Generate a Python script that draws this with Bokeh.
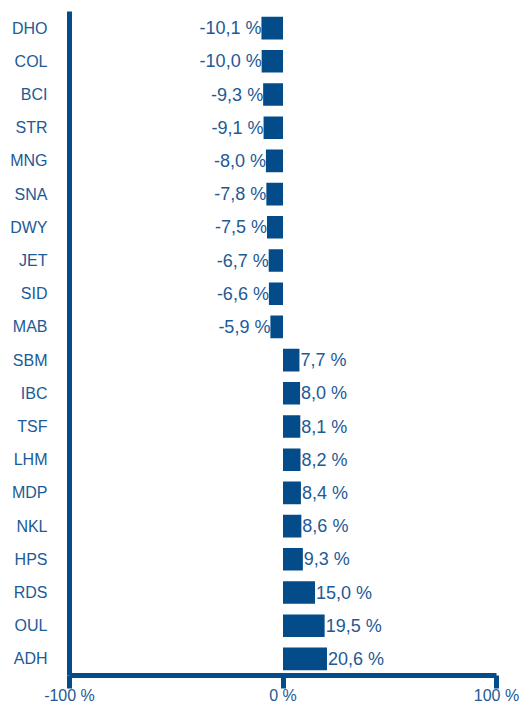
from bokeh.plotting import figure
from bokeh.models import ColumnDataSource, FactorRange, FixedTicker, LabelSet
from bokeh.core.properties import value
from bokeh.embed import file_html
from bokeh.resources import INLINE

categories = ["DHO", "COL", "BCI", "STR", "MNG", "SNA", "DWY", "JET", "SID", "MAB",
              "SBM", "IBC", "TSF", "LHM", "MDP", "NKL", "HPS", "RDS", "OUL", "ADH"]
values = [-10.1, -10.0, -9.3, -9.1, -8.0, -7.8, -7.5, -6.7, -6.6, -5.9,
          7.7, 8.0, 8.1, 8.2, 8.4, 8.6, 9.3, 15.0, 19.5, 20.6]
x_ticks = [-100, 0, 100]
x_tick_labels = {-100: "-100 %", 0: "0 %", 100: "100 %"}

BAR = "#034b89"
TXT = "#1d5a96"
FONT = "Liberation Sans"

labels = [f"{v:.1f}".replace(".", ",") + " %" for v in values]
aligns = ["right" if v < 0 else "left" for v in values]
offs = [0 if v < 0 else 1 for v in values]

src = ColumnDataSource(dict(cat=categories, val=values, lab=labels, al=aligns, off=offs))

p = figure(width=519, height=706, output_backend="svg", toolbar_location=None,
           x_range=(-100, 100),
           y_range=FactorRange(factors=list(reversed(categories)), range_padding=0),
           min_border_left=69, min_border_right=23, min_border_top=11, min_border_bottom=29)

p.hbar(y="cat", right="val", left=0, height=0.68, source=src, color=BAR, line_color=None)

ls = LabelSet(x="val", y="cat", text="lab", source=src, text_align="al", x_offset="off",
              text_baseline="middle", text_font=value(FONT), text_font_size=value("18px"),
              text_color=TXT)
p.add_layout(ls)

p.grid.visible = False
p.outline_line_color = None

xa = p.xaxis[0]
xa.ticker = FixedTicker(ticks=x_ticks)
xa.major_label_overrides = x_tick_labels
xa.axis_line_color = BAR
xa.axis_line_width = 5
xa.major_tick_line_color = BAR
xa.major_tick_line_width = 5
xa.major_tick_in = 0
xa.major_tick_out = 13
xa.minor_tick_line_color = None
xa.major_label_standoff = -2
xa.major_label_text_font = FONT
xa.major_label_text_font_size = "16px"
xa.major_label_text_color = TXT

ya = p.yaxis[0]
ya.axis_line_color = BAR
ya.axis_line_width = 5
ya.major_tick_line_color = None
ya.minor_tick_line_color = None
ya.major_tick_in = 0
ya.major_tick_out = 0
ya.major_label_standoff = 22
ya.major_label_text_font = FONT
ya.major_label_text_font_size = "16px"
ya.major_label_text_color = TXT

open("out.html", "w").write(file_html(p, INLINE))
